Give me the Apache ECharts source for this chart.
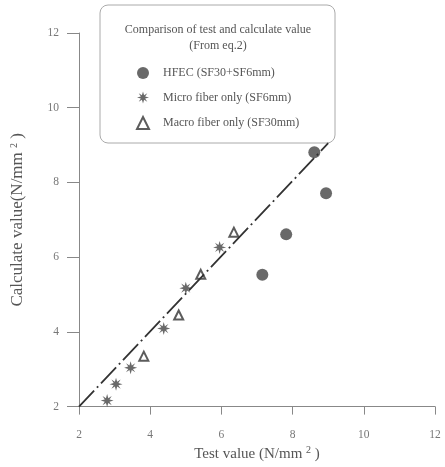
<!DOCTYPE html>
<html>
<head>
<meta charset="utf-8">
<script src="https://cdn.jsdelivr.net/npm/echarts@6/dist/echarts.min.js"></script>
<style>
  * { margin: 0; padding: 0; }
  #chart { width: 445px; height: 467px; background: #fff; }
</style>
</head>
<body>
<div id="chart"></div>
<script>
// values
var hfecX = [7.15, 7.82, 8.61, 8.94];
var hfecY = [5.53, 6.61, 8.81, 7.71];
var microX = [2.79, 3.04, 3.45, 4.38, 5.0, 5.95];
var microY = [2.16, 2.60, 3.04, 4.09, 5.17, 6.26];
var macroX = [3.82, 4.80, 5.42, 6.35];
var macroY = [3.35, 4.45, 5.54, 6.67];
var lineX = [2, 9];
var lineY = [2, 9.05];
var seriesNames = ['HFEC (SF30+SF6mm)', 'Micro fiber only (SF6mm)', 'Macro fiber only (SF30mm)'];

function pairs(xs, ys) {
  var out = [];
  for (var i = 0; i < xs.length; i++) out.push([xs[i], ys[i]]);
  return out;
}

// 8 point star, looks like the asterisk marks
var starPath = 'path://M0,-10 L1.8,-3.6 L7.1,-7.1 L3.6,-1.8 L10,0 L3.6,1.8 L7.1,7.1 L1.8,3.6 L0,10 L-1.8,3.6 L-7.1,7.1 L-3.6,1.8 L-10,0 L-3.6,-1.8 L-7.1,-7.1 L-1.8,-3.6 Z';

var serif = '"Liberation Serif", "DejaVu Serif", serif';
var supRich = {
  sup: { fontSize: 10, verticalAlign: 'top', fontFamily: serif, color: '#555', padding: [0, 0, 8, 0] }
};

var myChart = echarts.init(document.getElementById('chart'));
myChart.setOption({
  animation: false,
  grid: { left: 79, right: 10, top: 33, bottom: 56 },
  graphic: [
    {
      type: 'rect',
      shape: { x: 100, y: 5, width: 235, height: 138, r: 8 },
      style: { fill: 'none', stroke: '#aaa', lineWidth: 1 }
    },
    {
      type: 'text', x: 218, y: 30,
      style: { text: 'Comparison of test and calculate value', align: 'center', verticalAlign: 'middle',
        font: '12px ' + serif, fill: '#555' }
    },
    {
      type: 'text', x: 218, y: 46,
      style: { text: '(From eq.2)', align: 'center', verticalAlign: 'middle',
        font: '12px ' + serif, fill: '#555' }
    }
  ],
  legend: {
    data: seriesNames,
    orient: 'vertical',
    left: 131,
    top: 62,
    itemWidth: 12,
    itemHeight: 12,
    itemGap: 12.5,
    textStyle: { fontFamily: serif, fontSize: 12, color: '#555', padding: [0, 0, 0, 9] }
  },
  xAxis: {
    type: 'value', min: 2, max: 12, interval: 2,
    name: '{a|Test value (N/mm }{sup|2}{a| )}',
    nameLocation: 'middle', nameGap: 38,
    nameTextStyle: { rich: Object.assign({ a: { fontSize: 15, fontFamily: serif, color: '#555' } }, supRich) },
    axisLine: { onZero: false, lineStyle: { color: '#888' } },
    axisTick: { length: 8, lineStyle: { color: '#888' } },
    axisLabel: { fontFamily: serif, fontSize: 11.5, color: '#777', margin: 22 },
    splitLine: { show: false }
  },
  yAxis: {
    type: 'value', min: 2, max: 12, interval: 2,
    name: '{a|Calculate value(N/mm }{sup|2}{a| )}',
    nameLocation: 'middle', nameGap: 52,
    nameTextStyle: { rich: Object.assign({ a: { fontSize: 17, fontFamily: serif, color: '#555' } }, supRich) },
    axisLine: { show: true, onZero: false, lineStyle: { color: '#888' } },
    axisTick: { show: true, length: 12, lineStyle: { color: '#888' } },
    axisLabel: { fontFamily: serif, fontSize: 11.5, color: '#777', margin: 20 },
    splitLine: { show: false }
  },
  series: [
    {
      name: seriesNames[0], type: 'scatter', symbol: 'circle', symbolSize: 12,
      itemStyle: { color: '#444' },
      data: pairs(hfecX, hfecY)
    },
    {
      name: seriesNames[1], type: 'scatter', symbol: starPath, symbolSize: 13,
      itemStyle: { color: '#444' },
      data: pairs(microX, microY)
    },
    {
      name: seriesNames[2], type: 'scatter', symbol: 'triangle', symbolSize: 9,
      itemStyle: { color: '#fff', borderColor: '#333', borderWidth: 2 },
      data: pairs(macroX, macroY)
    },
    {
      name: 'fit', type: 'line', symbol: 'none', silent: true,
      lineStyle: { color: '#333', width: 1.8, type: [22, 4, 2, 4] },
      data: pairs(lineX, lineY)
    }
  ]
});
</script>
</body>
</html>
